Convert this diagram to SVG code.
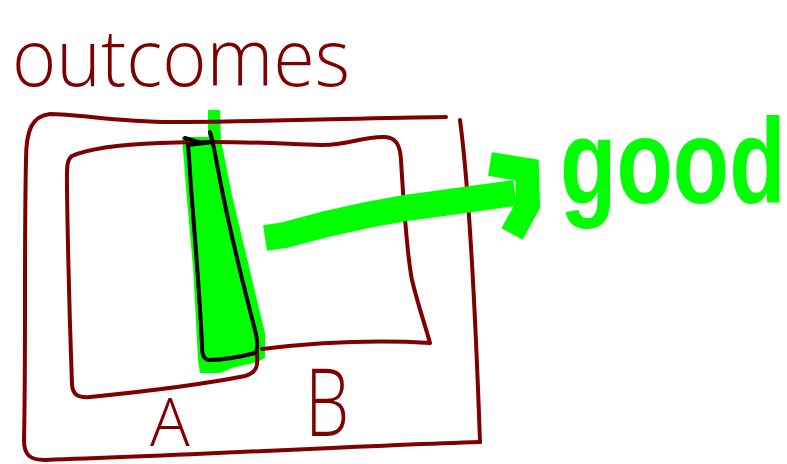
<svg xmlns="http://www.w3.org/2000/svg" width="787" height="464" viewBox="0 0 787 464">
<style>
.ink{fill:none;stroke:#7f0000;stroke-width:4;stroke-linecap:round;stroke-linejoin:round}
.blk{fill:none;stroke:#000;stroke-width:4;stroke-linecap:round;stroke-linejoin:round}
.hl{fill:#00ff00;stroke:none}
.gr{fill:none;stroke:#00ff00;stroke-linecap:butt;stroke-linejoin:miter}
.lbl{fill:#7f0000;font-family:"Open Sans","Liberation Sans",sans-serif;font-weight:300}
</style>
<rect width="787" height="464" fill="#fff"/>
<g id="title"><text class="lbl" x="12" y="86" font-size="80" textLength="338" lengthAdjust="spacingAndGlyphs">outcomes</text></g>
<g id="highlight">
<path class="hl" d="M182 137 L208 137 L208 110 L220 110 L221 140 L232 195 L241 233 L257 300 L265 333 L265 358 L257 362 L232 368 L220 373 L200 373 L198 360 L193 267 L187 200 Z"/>
</g>
<g id="outer-box">
<path class="ink" d="M446 117 C360 118 300 121 180 122 C120 123 80 114 50 114 C32 116 26 130 26 160 C24 250 26 350 24 440 C24 455 30 460 45 460 C200 455 350 446 480 442"/>
<path class="ink" d="M460 120 C468 180 475 300 480 442"/>
</g>
<g id="inner-box">
<path class="ink" d="M383 137 C395 137 400 143 401 160 C404 210 408 260 412 280 C418 305 425 325 430 343 C380 340 320 342 262 349"/>
<path class="ink" d="M383 137 C360 137 345 146 320 145 C280 144 240 140 160 143 C110 145 85 150 72 156 C66 160 67 170 67 190 C68 260 70 330 72 385 C73 395 78 398 90 397 C140 392 200 385 245 376 C258 372 258 365 257 352"/>
</g>
<g id="region">
<path class="blk" d="M185 138 L198 142 M188 145 L213 142 M210 132 C213 140 214 150 222 190 C230 230 242 280 255 330 C258 342 258 350 255 353 C240 357 220 360 208 360 C203 358 202 354 202 345 C200 300 196 250 192 200 C190 175 189 155 188 145"/>
</g>
<g id="connectors">
<path class="gr" stroke-width="26" d="M265 238 L285 235 C330 222 380 210 450 202 L515 193"/>
<path class="gr" stroke-width="24" stroke-linejoin="round" d="M490 164 L527 170 L528 205 L512 234"/>
</g>
<g id="good"><text transform="translate(560 203) scale(0.77 1)" x="0" y="0" font-size="120" font-weight="bold" font-family="Liberation Sans, Arial, sans-serif" fill="#00ff00">good</text></g>
<g id="label-A"><text class="lbl" x="150" y="446" font-size="66">A</text></g>
<g id="label-B"><text class="lbl" transform="translate(305 436) scale(0.75 1)" x="0" y="0" font-size="94">B</text></g>
</svg>
